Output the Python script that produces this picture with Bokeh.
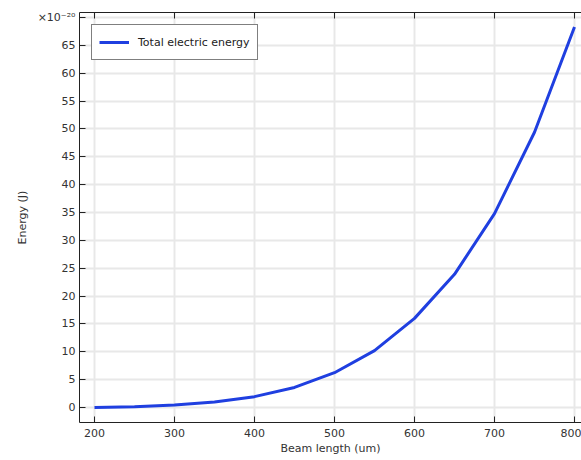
from bokeh.plotting import figure
from bokeh.models import LinearAxis, Range1d, SingleIntervalTicker, Legend
from bokeh.embed import file_html
from bokeh.resources import INLINE

# Data (energy in units of 1e-20 J)
beam_length = [200, 250, 300, 350, 400, 450, 500, 550, 600, 650, 700, 750, 800]
energy = [0.0, 0.15, 0.45, 1.0, 1.95, 3.6, 6.25, 10.2, 16.0, 23.9, 34.8, 49.4, 68.3]
x_ticks = [200, 300, 400, 500, 600, 700, 800]
series_name = "Total electric energy"
multiplier_text = "×10⁻²⁰"

FONT = "DejaVu Sans"
TXT = "#333333"

p = figure(width=581, height=460, output_backend="svg", toolbar_location=None,
           x_range=Range1d(181.25, 808.75), y_range=Range1d(-2.69, 70.9),
           min_border_left=79, min_border_top=12, min_border_right=0, min_border_bottom=38)
p.outline_line_color = None

ln = p.line(beam_length, energy, line_color="#1f3fe0", line_width=3)

for ax in [p.xaxis[0], p.yaxis[0]]:
    ax.major_tick_in = 6
    ax.major_tick_out = 0
    ax.minor_tick_in = 0
    ax.minor_tick_out = 0
    ax.axis_line_color = "#222222"
    ax.major_tick_line_color = "#222222"
    ax.major_label_text_font = FONT
    ax.major_label_text_font_size = "11px"
    ax.major_label_text_color = TXT
    ax.axis_label_text_font = FONT
    ax.axis_label_text_font_size = "11px"
    ax.axis_label_text_font_style = "normal"
    ax.axis_label_text_color = TXT

p.xaxis[0].ticker = SingleIntervalTicker(interval=100)
p.yaxis[0].ticker = SingleIntervalTicker(interval=5)
p.yaxis[0].major_label_overrides = {70: multiplier_text}
p.xaxis[0].axis_label = "Beam length (um)"
p.yaxis[0].axis_label = "Energy (J)"
p.xaxis[0].major_label_standoff = 6
p.xaxis[0].axis_label_standoff = 2
p.yaxis[0].major_label_standoff = 4
p.yaxis[0].axis_label_standoff = 6

top = LinearAxis(ticker=SingleIntervalTicker(interval=100))
top.major_tick_in = 6
top.major_tick_out = 0
top.minor_tick_in = 0
top.minor_tick_out = 0
top.major_label_overrides = {t: "" for t in x_ticks}
top.major_label_text_font_size = "1px"
top.major_label_standoff = 0
top.axis_line_color = "#222222"
top.major_tick_line_color = "#222222"
p.add_layout(top, "above")

p.xgrid.ticker = SingleIntervalTicker(interval=100)
p.ygrid.ticker = SingleIntervalTicker(interval=5)
for g in [p.xgrid[0], p.ygrid[0]]:
    g.grid_line_color = "#e8e8e8"
    g.grid_line_width = 2

legend = Legend(items=[(series_name, [ln])], location="top_left")
legend.margin = 12
legend.padding = 7
legend.spacing = 0
legend.glyph_width = 30
legend.label_standoff = 9
legend.label_text_font = FONT
legend.label_text_font_size = "11px"
legend.label_text_color = "#222222"
legend.border_line_color = "#000000"
legend.border_line_width = 1
legend.background_fill_alpha = 1
p.add_layout(legend, "center")

open("out.html", "w").write(file_html(p, INLINE))
